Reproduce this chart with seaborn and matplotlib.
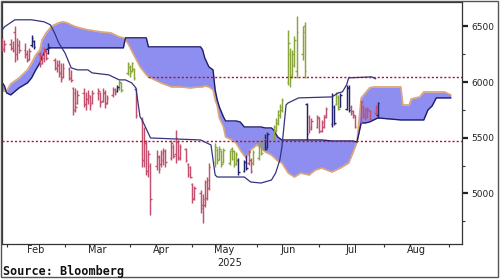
import numpy as np
import pandas as pd
import matplotlib
matplotlib.use("Agg")
import matplotlib.pyplot as plt
import matplotlib.dates as mdates
import matplotlib.transforms as mtransforms
from matplotlib.patches import Rectangle
import seaborn as sns

sns.set_theme(style="white")
plt.rcParams["font.family"] = ["DejaVu Sans"]

# ---------------- data ----------------
bar_first, bar_last = "2025-01-30", "2025-07-29"
bar_high = [
    6400, 6380,
    6390, 6370, 6500, 6400, 6380,
    6350, 6290, 6310, 6420, 6380,
    6270, 6250, 6320, 6290, 6350,
    6220, 6200, 6200, 6170, 6170,
    6140, 6110, 5960, 5950, 5930,
    5950, 5910, 5930, 5880, 5930,
    5950, 5910, 5950, 5930, 5880,
    5960, 5950, 5975, 6020, 6000,
    6180, 6150, 6180, 6130, 5950,
    5690, 5600, 5480, 5390, 5270,
    5390, 5345, 5390, 5410, 5400,
    5480, 5440, 5570, 5480, 5440,
    5410, 5270, 5250, 5090, 5070,
    5030, 4990, 5120, 5150, 5270,
    5450, 5410, 5430, 5390, 5410,
    5390, 5420, 5390, 5370, 5320,
    5300, 5345, 5390, 5320, 5390,
    5480, 5450, 5500, 5530, 5550,
    5615, 5680, 5750, 5800, 5860,
    6470, 6310, 6290, 6410, 6590,
    6500, 6540, 5810, 5705, 5680,
    5705, 5690, 5660, 5705, 5777,
    5900, 5795, 5910, 5885, 5900,
    5975, 5975, 5795, 5750, 5705,
    5840, 5795, 5770, 5780, 5750,
    5795, 5820]
bar_low = [
    6280, 6270,
    6290, 6270, 6180, 6200, 6260,
    6220, 6180, 6200, 6320, 6300,
    6140, 6160, 6180, 6200, 6250,
    6110, 6090, 6050, 6000, 6040,
    6020, 6000, 5700, 5730, 5800,
    5780, 5750, 5800, 5750, 5800,
    5840, 5780, 5820, 5770, 5800,
    5870, 5880, 5910, 5930, 5910,
    6065, 6050, 6090, 6020, 5680,
    5240, 5240, 5165, 5150, 4805,
    5210, 5180, 5240, 5255, 5240,
    5300, 5320, 5270, 5300, 5300,
    5280, 5150, 5140, 4910, 4940,
    4820, 4730, 4880, 4940, 5030,
    5240, 5260, 5300, 5240, 5270,
    5255, 5300, 5240, 5255, 5165,
    5190, 5210, 5255, 5185, 5255,
    5300, 5345, 5390, 5390, 5410,
    5480, 5550, 5615, 5680, 5730,
    5975, 5960, 6040, 6140, 6040,
    6200, 6040, 5480, 5545, 5570,
    5590, 5545, 5550, 5590, 5680,
    5597, 5615, 5795, 5750, 5775,
    5750, 5730, 5705, 5680, 5590,
    5630, 5680, 5660, 5680, 5660,
    5705, 5680]
bar_open = [
    6350, 6300,
    6340, 6310, 6450, 6250, 6330,
    6290, 6250, 6210, 6330, 6370,
    6250, 6170, 6220, 6280, 6260,
    6200, 6130, 6150, 6080, 6050,
    6120, 6040, 5950, 5900, 5810,
    5900, 5800, 5850, 5870, 5810,
    5900, 5900, 5830, 5900, 5810,
    5880, 5930, 5920, 5940, 5990,
    6080, 6140, 6100, 6120, 5940,
    5650, 5300, 5450, 5200, 5250,
    5250, 5330, 5260, 5300, 5380,
    5320, 5420, 5350, 5460, 5320,
    5400, 5260, 5240, 5080, 4960,
    5000, 4900, 4900, 4960, 5050,
    5280, 5390, 5310, 5380, 5280,
    5270, 5400, 5380, 5260, 5300,
    5200, 5330, 5270, 5300, 5270,
    5320, 5440, 5400, 5480, 5420,
    5500, 5570, 5630, 5700, 5750,
    6000, 6250, 6060, 6150, 6100,
    6250, 6500, 5800, 5690, 5600,
    5600, 5680, 5560, 5600, 5690,
    5620, 5780, 5800, 5870, 5780,
    5760, 5950, 5780, 5740, 5700,
    5650, 5780, 5700, 5690, 5740,
    5720, 5700]
bar_close = [
    6300, 6340,
    6310, 6290, 6250, 6330, 6290,
    6250, 6200, 6280, 6400, 6320,
    6160, 6220, 6290, 6220, 6320,
    6130, 6150, 6080, 6030, 6130,
    6040, 6020, 5750, 5780, 5880,
    5800, 5850, 5880, 5790, 5900,
    5920, 5820, 5910, 5800, 5860,
    5940, 5900, 5960, 6000, 5930,
    6160, 6080, 6170, 6040, 5700,
    5300, 5450, 5200, 5350, 4950,
    5340, 5220, 5360, 5380, 5280,
    5450, 5340, 5500, 5330, 5420,
    5300, 5170, 5150, 4950, 5050,
    4870, 4950, 5100, 5120, 5240,
    5420, 5300, 5400, 5260, 5390,
    5380, 5310, 5260, 5350, 5190,
    5280, 5230, 5370, 5200, 5370,
    5460, 5360, 5490, 5400, 5530,
    5600, 5660, 5740, 5780, 5840,
    6350, 6050, 6250, 6380, 6450,
    6450, 6100, 5530, 5580, 5650,
    5690, 5560, 5640, 5700, 5760,
    5880, 5630, 5900, 5760, 5880,
    5960, 5750, 5720, 5690, 5600,
    5820, 5700, 5760, 5760, 5670,
    5780, 5810]
bar_signal = list(
    "rr" "rrrrr" "rrrbb" "rrrrb" "rrrrr" "rrrrr" "rrrrr" "rrrrr" "rrbgg"
    "ggggr" "rrrrr" "rrrrr" "rrrrr" "rrrrr" "rrrrr" "ggggg" "ggggb" "bbrrg"
    "gggbb" "ggggg" "ggggg" "ggbrr" "rrrrr" "bbggb" "bbrrr" "rrrrr" "rb")

cloud_dates = [
    "2025-01-29", "2025-01-31", "2025-02-01", "2025-02-03", "2025-02-07", "2025-02-11", "2025-02-13", "2025-02-15", "2025-02-17", "2025-02-18",
    "2025-02-20", "2025-02-22", "2025-02-23", "2025-02-26", "2025-02-28", "2025-03-02", "2025-03-05", "2025-03-08", "2025-03-12", "2025-03-18",
    "2025-03-23", "2025-03-27", "2025-03-29", "2025-03-30", "2025-03-31", "2025-04-03", "2025-04-06", "2025-04-09", "2025-04-10", "2025-04-16",
    "2025-04-21", "2025-04-25", "2025-04-30", "2025-05-05", "2025-05-06", "2025-05-07", "2025-05-09", "2025-05-11", "2025-05-12", "2025-05-13",
    "2025-05-14", "2025-05-16", "2025-05-17", "2025-05-20", "2025-05-22", "2025-05-24", "2025-05-26", "2025-05-28", "2025-05-29", "2025-06-01",
    "2025-06-03", "2025-06-05", "2025-06-08", "2025-06-09", "2025-06-11", "2025-06-13", "2025-06-16", "2025-06-19", "2025-06-22", "2025-06-26",
    "2025-06-29", "2025-07-02", "2025-07-07", "2025-07-11", "2025-07-15", "2025-07-17", "2025-07-19", "2025-07-21", "2025-07-23", "2025-07-25",
    "2025-07-27", "2025-07-29", "2025-08-09", "2025-08-10", "2025-08-13", "2025-08-14", "2025-08-18", "2025-08-20", "2025-08-22", "2025-08-24",
    "2025-08-26", "2025-08-30", "2025-09-02"]
span_navy = [
    6020, 5966, 5903, 5885, 5948, 5993, 6038, 6110, 6173, 6227,
    6290, 6308, 6308, 6308, 6308, 6308, 6308, 6308, 6308, 6308,
    6308, 6308, 6308, 6398, 6398, 6398, 6398, 6398, 6317, 6317,
    6317, 6317, 6317, 6317, 6290, 6218, 6137, 6110, 5930, 5840,
    5777, 5687, 5651, 5651, 5651, 5642, 5597, 5597, 5597, 5597,
    5597, 5588, 5588, 5570, 5507, 5480, 5480, 5480, 5480, 5480,
    5480, 5480, 5471, 5471, 5471, 5471, 5462, 5633, 5633, 5642,
    5660, 5678, 5660, 5660, 5660, 5660, 5660, 5660, 5750, 5786,
    5858, 5858, 5858]
span_tan = [
    5912, 5921, 5921, 5984, 6038, 6110, 6173, 6245, 6290, 6380,
    6443, 6488, 6506, 6533, 6542, 6533, 6506, 6488, 6470, 6452,
    6443, 6407, 6398, 6380, 6353, 6245, 6137, 6065, 6047, 5993,
    5957, 5957, 5948, 5957, 5957, 5966, 5957, 5930, 5840, 5786,
    5678, 5597, 5507, 5480, 5453, 5390, 5336, 5345, 5390, 5435,
    5408, 5372, 5345, 5327, 5291, 5273, 5183, 5147, 5183, 5165,
    5210, 5228, 5192, 5228, 5273, 5363, 5462, 5858, 5903, 5948,
    5957, 5957, 5957, 5795, 5795, 5849, 5867, 5912, 5912, 5912,
    5912, 5912, 5885]

base_dates = [
    "2025-01-29", "2025-01-31", "2025-02-05", "2025-02-13", "2025-02-19", "2025-02-22", "2025-02-24", "2025-02-26", "2025-03-01", "2025-03-04",
    "2025-03-07", "2025-03-12", "2025-03-14", "2025-03-22", "2025-03-27", "2025-03-30", "2025-04-02", "2025-04-04", "2025-04-06", "2025-04-07",
    "2025-04-11", "2025-05-05", "2025-05-10", "2025-05-11", "2025-05-12", "2025-05-13", "2025-05-26", "2025-05-29", "2025-06-03", "2025-06-08",
    "2025-06-10", "2025-06-12", "2025-06-13", "2025-06-15", "2025-06-16", "2025-06-21", "2025-07-07", "2025-07-10", "2025-07-12", "2025-07-14",
    "2025-07-15", "2025-07-26", "2025-07-28"]
base_line = [
    6443, 6497, 6560, 6560, 6542, 6515, 6443, 6353, 6263, 6128,
    6110, 6110, 6083, 6065, 6020, 6020, 5993, 5948, 5687, 5660,
    5498, 5480, 5435, 5300, 5165, 5147, 5147, 5102, 5093, 5120,
    5183, 5300, 5417, 5795, 5813, 5858, 5867, 5903, 5912, 5975,
    6038, 6047, 6029]

resistance_level = 6045
resistance_from = "2025-04-10"
support_level = 5470

y_major = [5000, 5500, 6000, 6500]
y_minor = [4750, 5250, 5750, 6250]
month_labels = ["Feb", "Mar", "Apr", "May", "Jun", "Jul", "Aug"]
year_label = "2025"
source_text = "Source: Bloomberg"

# ---------------- styling ----------------
C_FILL = "#8e8ef0"
C_NAVY = "#1e1e6e"
C_TAN = "#dca77a"
C_LINE = "#34347f"
C_DASH = "#b8102e"
BAR_COLORS = {"r": "#c2506e", "g": "#8aa63c", "b": "#23236e"}

W, H = 500, 280
fig = plt.figure(figsize=(W / 100, H / 100), dpi=100)
fig.patch.set_facecolor("white")
ax = fig.add_axes([1.5 / W, 1 - 244 / H, (462 - 1.5) / W, 242 / H])
ax.set_facecolor("white")

x_lo = mdates.date2num(pd.Timestamp("2025-01-29 14:00"))
x_hi = mdates.date2num(pd.Timestamp("2025-09-07 08:00"))

# cloud
xc = mdates.date2num(pd.to_datetime(cloud_dates))
ax.fill_between(xc, span_navy, span_tan, color=C_FILL, lw=0, zorder=1)
sns.lineplot(x=xc, y=span_tan, ax=ax, estimator=None, sort=False,
             color=C_TAN, linewidth=1.2, zorder=2)
sns.lineplot(x=xc, y=span_navy, ax=ax, estimator=None, sort=False,
             color=C_NAVY, linewidth=1.0, zorder=2)

# OHLC bars
n = min(len(bar_high), len(bar_low), len(bar_open), len(bar_close), len(bar_signal))
bar_dates = pd.bdate_range(bar_first, bar_last)[:n]
xb = mdates.date2num(bar_dates)
cols = [BAR_COLORS[s] for s in bar_signal[:n]]
ax.vlines(xb, bar_low[:n], bar_high[:n], colors=cols, lw=1.05, zorder=4)
ax.hlines(bar_open[:n], xb - 0.7, xb, colors=cols, lw=1.0, zorder=4)
ax.hlines(bar_close[:n], xb, xb + 0.7, colors=cols, lw=1.0, zorder=4)

# dotted levels
ax.axhline(support_level, color=C_DASH, lw=1.0, ls=(0, (1.5, 1.5)), zorder=5)
xr0 = mdates.date2num(pd.Timestamp(resistance_from))
ax.plot([xr0, x_hi], [resistance_level, resistance_level], color=C_DASH,
        lw=1.0, ls=(0, (1.5, 1.5)), zorder=5)

# base line
xl = mdates.date2num(pd.to_datetime(base_dates))
sns.lineplot(x=xl, y=base_line, ax=ax, estimator=None, sort=False,
             color=C_LINE, linewidth=0.9, zorder=6)

ax.set_xlim(x_lo, x_hi)
ax.set_ylim(4545, 6720)
ax.set_xlabel("")
ax.set_ylabel("")
ax.grid(False)

for sp in ax.spines.values():
    sp.set_visible(True)
    sp.set_color("#333333")
    sp.set_linewidth(0.9)

# y axis on right
ax.yaxis.tick_right()
ax.set_yticks(y_major)
ax.set_yticklabels([str(v) for v in y_major])
ax.set_yticks(y_minor, minor=True)
ax.tick_params(axis="y", which="major", direction="out", length=4, width=1.6,
               pad=3, labelsize=6.5, colors="#222222", right=True, left=False)
ax.tick_params(axis="y", which="minor", direction="out", length=2, width=0.8,
               colors="#333333", right=True, left=False)

# x axis months
month_starts = mdates.date2num(pd.date_range("2025-02-01", "2025-09-01", freq="MS"))
mids = (month_starts[:-1] + month_starts[1:]) / 2
ax.set_xticks(month_starts)
ax.set_xticklabels([""] * len(month_starts))
ax.set_xticks(mids, minor=True)
ax.set_xticklabels(month_labels, minor=True)
ax.tick_params(axis="x", which="major", direction="out", length=2.5, width=0.8,
               colors="#333333", bottom=True, top=False)
ax.tick_params(axis="x", which="minor", length=0, pad=1.0, labelsize=7,
               labelcolor="#222222", bottom=True, top=False)

trans = mtransforms.blended_transform_factory(ax.transData, ax.transAxes)
ax.text(mdates.date2num(pd.Timestamp("2025-05-19")), -0.058, year_label,
        transform=trans, ha="center", va="top", fontsize=7, color="#222222")

fig.text(0.006, (H - 271.5) / H, source_text, fontsize=8.5,
         family="DejaVu Sans Mono", weight="bold", color="#111111",
         ha="left", va="center")

fig.patches.append(Rectangle((0.5 / W, (H - 276.5) / H), 497 / W, 276 / H,
                             transform=fig.transFigure, fill=False,
                             ec="#555555", lw=1.0))

fig.savefig("out.png", dpi=100, facecolor="white")
